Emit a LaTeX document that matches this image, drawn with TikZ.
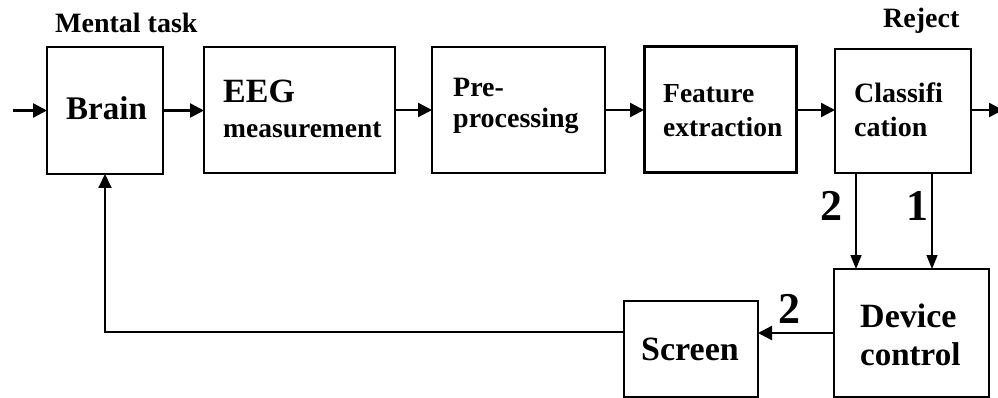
\documentclass[tikz,border=0pt]{standalone}
\usepackage{fontspec}
\setmainfont{Liberation Serif}
\usetikzlibrary{arrows.meta}

\tikzset{
  block/.style={draw, line width=2pt, minimum width=#1, inner sep=0pt, outer sep=0pt},
  flow/.style={line width=2.4pt, -{Triangle[length=14pt, width=14pt]}},
  thinflow/.style={line width=1.6pt, -{Triangle[length=14pt, width=11pt]}},
  txt/.style={anchor=base west, inner sep=0pt, font=\bfseries\fontsize{#1}{#1}\selectfont},
  num/.style={anchor=base west, inner sep=0pt, font=\bfseries\fontsize{44}{44}\selectfont}
}

\begin{document}
\begin{tikzpicture}[x=1pt, y=-1pt]
  \useasboundingbox (0,0) rectangle (998,398);

  % processing chain
  \node[block=116pt, minimum height=127pt] (brain) at (105,110.5) {};
  \node[block=191pt, minimum height=126pt] (eeg)   at (299.5,110) {};
  \node[block=173pt, minimum height=126pt] (pre)   at (518.5,110) {};
  \node[block=152pt, minimum height=126pt, line width=3pt] (feat) at (720,110) {};
  \node[block=136pt, minimum height=124pt] (cls)   at (903,111) {};
  \node[block=155pt, minimum height=128pt] (dev)   at (911.5,333) {};
  \node[block=134pt, minimum height=96pt]  (scr)   at (691,349) {};

  % box texts
  \node[txt=33] (tbrain) at (66,120) {Brain};
  \node[txt=34] (teeg1)  at (223,103) {EEG};
  \node[txt=27.5] (teeg2) at (223,138) {measurement};
  \node[txt=28] (tpre1)  at (453,97) {Pre-};
  \node[txt=28] (tpre2)  at (453,128) {processing};
  \node[txt=27.5] (tfeat1) at (663,103) {Feature};
  \node[txt=27.5] (tfeat2) at (663,137) {extraction};
  \node[txt=28] (tcls1)  at (854,103) {Classifi};
  \node[txt=28] (tcls2)  at (854,137) {cation};
  \node[txt=34] (tdev1)  at (860,327) {Device};
  \node[txt=33] (tdev2)  at (860,365) {control};
  \node[txt=34] (tscr)   at (641,360) {Screen};

  % outside labels
  \node[txt=28] (lmental) at (55,33) {Mental task};
  \node[txt=28] (lreject) at (883,28) {Reject};
  \node[num] (ltwo)  at (820,220) {2};
  \node[num] (lone)  at (906,220) {1};
  \node[num] (ltwob) at (778,323) {2};

  % free ends of the open connectors
  \coordinate (in)  at (13,110.5);
  \coordinate (out) at (1003,110);
  \coordinate (corner) at (105,332);

  % forward connectors
  \draw[flow] (in) -- (brain.west);
  \draw[flow] (brain.east) -- (eeg.west |- brain.east);
  \draw[flow] (eeg.east) -- (pre.west);
  \draw[flow] (pre.east) -- (feat.west);
  \draw[flow] (feat.east) -- (cls.west |- feat.east);
  \draw[flow] (cls.east |- out) -- (out);

  % classification to device control
  \draw[thinflow] (cls.south -| 856,0) -- (dev.north -| 856,0);
  \draw[thinflow] (cls.south -| 932,0) -- (dev.north -| 932,0);

  % device control to screen, and feedback to the brain
  \draw[flow] (dev.west |- 0,333) -- (scr.east |- 0,333);
  \draw[line width=2pt, -{Triangle[length=14pt, width=13pt]}]
    (scr.west |- corner) -- (corner) -- (brain.south);
\end{tikzpicture}
\end{document}
